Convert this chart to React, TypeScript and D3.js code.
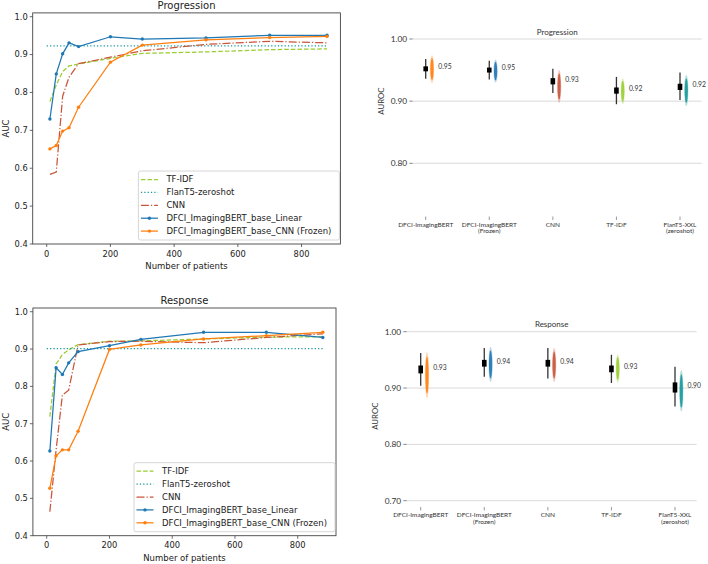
import * as d3 from 'd3';

const patientCounts = [10, 30, 50, 70, 100, 200, 300, 500, 700, 880];
const zeroShotSpan = [0, 880];

// Progression AUC vs number of patients
const progTfidf = [0.776, 0.82, 0.855, 0.87, 0.875, 0.89, 0.903, 0.907, 0.913, 0.915];
const progCnn = [0.584, 0.59, 0.79, 0.84, 0.876, 0.893, 0.91, 0.927, 0.935, 0.931];
const progLinear = [0.73, 0.849, 0.902, 0.931, 0.921, 0.947, 0.941, 0.944, 0.951, 0.951];
const progFrozen = [0.651, 0.66, 0.698, 0.707, 0.761, 0.88, 0.925, 0.939, 0.945, 0.948];
const progFlan = 0.923;

// Response AUC vs number of patients
const respTfidf = [0.719, 0.86, 0.885, 0.898, 0.912, 0.921, 0.922, 0.927, 0.932, 0.933];
const respCnn = [0.464, 0.63, 0.777, 0.79, 0.911, 0.92, 0.921, 0.917, 0.931, 0.941];
const respLinear = [0.627, 0.85, 0.832, 0.863, 0.893, 0.909, 0.926, 0.945, 0.945, 0.931];
const respFrozen = [0.527, 0.614, 0.63, 0.63, 0.68, 0.899, 0.911, 0.927, 0.936, 0.945];
const respFlan = 0.901;

const seriesNames = [
  'TF-IDF',
  'FlanT5-zeroshot',
  'CNN',
  'DFCI_ImagingBERT_base_Linear',
  'DFCI_ImagingBERT_base_CNN (Frozen)',
];
const aucTicks = [0.4, 0.5, 0.6, 0.7, 0.8, 0.9, 1.0];
const patientTicks = [0, 200, 400, 600, 800];

// bootstrap summaries (right panels)
const models = [
  ['DFCI-ImagingBERT'],
  ['DFCI-ImagingBERT', '(Frozen)'],
  ['CNN'],
  ['TF-IDF'],
  ['FlanT5-XXL', '(zeroshot)'],
];
const modelColors = ['#ff7f0e', '#1f77b4', '#c9553a', '#9acd32', '#17999b'];

const progMean = [0.952, 0.95, 0.932, 0.917, 0.923];
const progCiLo = [0.936, 0.935, 0.913, 0.895, 0.902];
const progCiHi = [0.968, 0.965, 0.952, 0.939, 0.946];
const progQ1 = [0.948, 0.946, 0.927, 0.912, 0.918];
const progQ3 = [0.956, 0.954, 0.937, 0.922, 0.928];
const progSpreadLo = [0.929, 0.93, 0.897, 0.895, 0.892];
const progSpreadHi = [0.974, 0.967, 0.95, 0.937, 0.942];

const respMean = [0.933, 0.944, 0.944, 0.934, 0.901];
const respCiLo = [0.904, 0.92, 0.917, 0.909, 0.867];
const respCiHi = [0.962, 0.971, 0.971, 0.959, 0.938];
const respQ1 = [0.926, 0.938, 0.938, 0.928, 0.892];
const respQ3 = [0.94, 0.95, 0.95, 0.94, 0.91];
const respSpreadLo = [0.882, 0.911, 0.911, 0.909, 0.858];
const respSpreadHi = [0.964, 0.973, 0.971, 0.96, 0.932];

const LEFT_FONT = 'DejaVu Sans';
const RIGHT_FONT = 'Lato';

const lineStyles = [
  { color: '#9acd32', dash: '4.6,2', marker: false },
  { color: '#17999b', dash: '1.25,2.1', marker: false },
  { color: '#c9553a', dash: '8,2,1.25,2', marker: false },
  { color: '#1f77b4', dash: null, marker: true },
  { color: '#ff7f0e', dash: null, marker: true },
];

const LinePanel = ({ title, xRange, yRange, tfidf, cnn, linear, frozen, flan }) => {
  const x = d3.scaleLinear().domain([-44, 922]).range(xRange);
  const y = d3.scaleLinear().domain([0.4, 1.01]).range(yRange);
  const line = d3
    .line()
    .x((d) => x(d[0]))
    .y((d) => y(d[1]));

  const pts = (vals) => patientCounts.map((c, i) => [c, vals[i]]);
  const data = [
    pts(tfidf),
    zeroShotSpan.map((c) => [c, flan]),
    pts(cnn),
    pts(linear),
    pts(frozen),
  ];

  const [left, right] = xRange;
  const [bottom, top] = yRange;
  const lgW = 201;
  const lgH = 69;
  const lgX = right - lgW - 1;
  const lgY = bottom - lgH - 4;

  return (
    <g fontFamily={LEFT_FONT} fill="#222">
      <text x={(left + right) / 2} y={top - 4} textAnchor="middle" fontSize={10}>
        {title}
      </text>
      {data.map((d, i) => (
        <g key={i}>
          <path
            d={line(d)}
            fill="none"
            stroke={lineStyles[i].color}
            strokeWidth={1.25}
            strokeDasharray={lineStyles[i].dash || undefined}
          />
          {lineStyles[i].marker &&
            d.map((p, j) => (
              <circle key={j} cx={x(p[0])} cy={y(p[1])} r={1.7} fill={lineStyles[i].color} />
            ))}
        </g>
      ))}
      <rect x={left} y={top} width={right - left} height={bottom - top} fill="none" stroke="#444" strokeWidth={0.9} />
      {aucTicks.map((t) => (
        <g key={t}>
          <line x1={left - 3} x2={left} y1={y(t)} y2={y(t)} stroke="#444" strokeWidth={0.8} />
          <text x={left - 5} y={y(t)} dy="0.35em" textAnchor="end" fontSize={8.3}>
            {t.toFixed(1)}
          </text>
        </g>
      ))}
      {patientTicks.map((t) => (
        <g key={t}>
          <line x1={x(t)} x2={x(t)} y1={bottom} y2={bottom + 3} stroke="#444" strokeWidth={0.8} />
          <text x={x(t)} y={bottom + 12.5} textAnchor="middle" fontSize={8.3}>
            {t}
          </text>
        </g>
      ))}
      <text x={(left + right) / 2} y={bottom + 25} textAnchor="middle" fontSize={8.5}>
        Number of patients
      </text>
      <text
        transform={`translate(${left - 24},${(top + bottom) / 2}) rotate(-90)`}
        textAnchor="middle"
        fontSize={8.5}
      >
        AUC
      </text>
      <rect x={lgX} y={lgY} width={lgW} height={lgH} rx={2} fill="white" fillOpacity={0.8} stroke="#ccc" strokeWidth={0.8} />
      {seriesNames.map((name, i) => {
        const ly = lgY + 8.5 + i * 12.9;
        return (
          <g key={name}>
            <line
              x1={lgX + 2.5}
              x2={lgX + 19.5}
              y1={ly}
              y2={ly}
              stroke={lineStyles[i].color}
              strokeWidth={1.25}
              strokeDasharray={lineStyles[i].dash || undefined}
            />
            {lineStyles[i].marker && <circle cx={lgX + 11} cy={ly} r={1.7} fill={lineStyles[i].color} />}
            <text x={lgX + 28} y={ly} dy="0.35em" fontSize={8.5}>
              {name}
            </text>
          </g>
        );
      })}
    </g>
  );
};

const RainPanel = ({ title, titleY, yDomain, yRange, gridX, catX, ticks, tickX, ylabelX, catY, stats }) => {
  const y = d3.scaleLinear().domain(yDomain).range(yRange);
  const x = d3.scaleLinear().domain([0, models.length - 1]).range(catX);
  const fmt = d3.format('.2f');
  const { mean, ciLo, ciHi, q1, q3, spreadLo, spreadHi } = stats;

  return (
    <g fontFamily={RIGHT_FONT} fill="#333">
      <text x={(gridX[0] + gridX[1]) / 2} y={titleY} textAnchor="middle" fontSize={8}>
        {title}
      </text>
      {ticks.map((t) => (
        <g key={t}>
          <line x1={gridX[0]} x2={gridX[1]} y1={y(t)} y2={y(t)} stroke="#cfcfcf" strokeWidth={0.8} />
          <line x1={tickX - 3.4} x2={tickX} y1={y(t)} y2={y(t)} stroke="#555" strokeWidth={0.7} />
          <text x={tickX - 5.5} y={y(t)} dy="0.35em" textAnchor="end" fontSize={8.3}>
            {fmt(t)}
          </text>
        </g>
      ))}
      <text
        transform={`translate(${ylabelX},${(yRange[0] + yRange[1]) / 2}) rotate(-90)`}
        textAnchor="middle"
        dy="0.35em"
        fontSize={7.8}
      >
        AUROC
      </text>
      {models.map((lines, i) => {
        const cx = x(i);
        const sx = cx + 6.3;
        const top = y(spreadHi[i]);
        const bot = y(spreadLo[i]);
        const mid = (top + bot) / 2;
        const half = (bot - top) / 2;
        return (
          <g key={i}>
            <ellipse cx={sx} cy={mid} rx={2.1} ry={half} fill={modelColors[i]} fillOpacity={0.3} />
            <ellipse cx={sx} cy={mid} rx={1.6} ry={half * 0.8} fill={modelColors[i]} fillOpacity={0.9} />
            <line x1={cx} x2={cx} y1={y(ciHi[i])} y2={y(ciLo[i])} stroke="#333" strokeWidth={1.3} />
            <rect x={cx - 2.3} y={y(q3[i])} width={4.6} height={y(q1[i]) - y(q3[i])} fill="#000" />
            <text x={cx + 12.5} y={y(mean[i]) - 2} dy="0.35em" fontSize={6.8}>
              {fmt(mean[i])}
            </text>
            <line x1={cx} x2={cx} y1={catY - 3.5} y2={catY} stroke="#555" strokeWidth={0.6} />
            {lines.map((l, k) => (
              <text key={k} x={cx} y={catY + 6.8 + k * 6.6} textAnchor="middle" fontSize={6.5}>
                {l}
              </text>
            ))}
          </g>
        );
      })}
    </g>
  );
};

export default function App() {
  return (
    <svg
      width={708}
      height={564}
      style={{ position: 'absolute', left: 0, top: 0, background: 'white' }}
    >
      <LinePanel
        title="Progression"
        xRange={[32.7, 340.4]}
        yRange={[244, 12.9]}
        tfidf={progTfidf}
        cnn={progCnn}
        linear={progLinear}
        frozen={progFrozen}
        flan={progFlan}
      />
      <LinePanel
        title="Response"
        xRange={[32.9, 336]}
        yRange={[535.7, 308]}
        tfidf={respTfidf}
        cnn={respCnn}
        linear={respLinear}
        frozen={respFrozen}
        flan={respFlan}
      />
      <RainPanel
        title="Progression"
        titleY={35}
        yDomain={[0.8, 1.0]}
        yRange={[163.3, 39]}
        gridX={[412.7, 701.7]}
        catX={[425.7, 680]}
        ticks={[0.8, 0.9, 1.0]}
        tickX={412.7}
        ylabelX={381.7}
        catY={220}
        stats={{
          mean: progMean,
          ciLo: progCiLo,
          ciHi: progCiHi,
          q1: progQ1,
          q3: progQ3,
          spreadLo: progSpreadLo,
          spreadHi: progSpreadHi,
        }}
      />
      <RainPanel
        title="Response"
        titleY={327}
        yDomain={[0.7, 1.0]}
        yRange={[500.7, 331.7]}
        gridX={[406.7, 696.7]}
        catX={[420.7, 675]}
        ticks={[0.7, 0.8, 0.9, 1.0]}
        tickX={406.7}
        ylabelX={375.5}
        catY={510.5}
        stats={{
          mean: respMean,
          ciLo: respCiLo,
          ciHi: respCiHi,
          q1: respQ1,
          q3: respQ3,
          spreadLo: respSpreadLo,
          spreadHi: respSpreadHi,
        }}
      />
    </svg>
  );
}
